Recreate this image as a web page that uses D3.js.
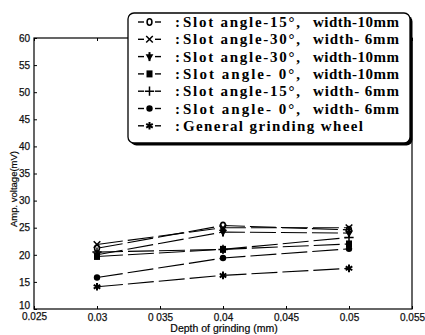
<!DOCTYPE html>
<html>
<head>
<meta charset="utf-8">
<script src="https://cdn.jsdelivr.net/npm/d3@7"></script>
<style>
  body { margin: 0; background: #fff; }
  svg { display: block; }
</style>
</head>
<body>
<svg id="chart"></svg>
<script>
// data
var depths = [0.03, 0.04, 0.05];
var s15w10 = [21.2, 25.4, 24.6];
var s30w6 = [21.9, 25.0, 25.0];
var s30w10 = [20.0, 24.2, 24.0];
var s0w10 = [19.7, 21.0, 22.0];
var s15w6 = [20.5, 21.0, 23.2];
var s0w6 = [15.8, 19.4, 21.1];
var general = [14.1, 16.2, 17.5];

var xTicks = [0.025, 0.03, 0.035, 0.04, 0.045, 0.05, 0.055];
var xTickLabels = ["0.025", "0.03", "0 035", "0.04", "0.045", "0.05", "0.055"];
var yTicks = [10, 15, 20, 25, 30, 35, 40, 45, 50, 55, 60];

var legendSym = ["0", "x", "down", "sq", "+", "dot", "ast"];
var legendA = ["Slot angle-15°,", "Slot angle-30°,", "Slot angle-30°,", "Slot angle- 0°,", "Slot angle-15°,", "Slot angle- 0°,", "General grinding wheel"];
var legendB = ["width-10mm", "width- 6mm", "width-10mm", "width-10mm", "width- 6mm", "width- 6mm", ""];

var series = [s15w10, s30w6, s30w10, s0w10, s15w6, s0w6, general];

var width = 425, height = 335;
var margin = {top: 38, right: 13, bottom: 26, left: 34};

var svg = d3.select("#chart").attr("width", width).attr("height", height);

var x = d3.scaleLinear().domain([0.025, 0.055]).range([margin.left, width - margin.right]);
var y = d3.scaleLinear().domain([10, 60]).range([height - margin.bottom, margin.top]);

// frame
svg.append("rect")
  .attr("x", x(0.025)).attr("y", y(60))
  .attr("width", x(0.055) - x(0.025)).attr("height", y(10) - y(60))
  .attr("fill", "none").attr("stroke", "#000").attr("stroke-width", 1.2);

// axes
var xAxis = svg.append("g")
  .attr("transform", "translate(0," + y(10) + ")")
  .call(d3.axisBottom(x).tickValues(xTicks).tickSize(-3).tickPadding(5)
    .tickFormat(function(d, i) { return xTickLabels[i]; }));
var yAxis = svg.append("g")
  .attr("transform", "translate(" + x(0.025) + ",0)")
  .call(d3.axisLeft(y).tickValues(yTicks).tickSize(-3).tickPadding(4));
// top axis ticks
svg.append("g")
  .attr("transform", "translate(0," + y(60) + ")")
  .call(d3.axisTop(x).tickValues(xTicks).tickSize(-3).tickFormat(""))
  .select(".domain").remove();

[xAxis, yAxis].forEach(function(g) {
  g.select(".domain").remove();
  g.selectAll("text").attr("font-family", "Liberation Sans, Arial, sans-serif")
    .attr("font-size", 10).attr("fill", "#111")
    .attr("stroke", "#111").attr("stroke-width", 0.25);
});
// first x tick label sits just below the "10"
xAxis.selectAll(".tick text").filter(function(d) { return d === 0.025; }).attr("dy", "0.6em");
yAxis.selectAll(".tick text").filter(function(d) { return d === 10; }).attr("dy", "-0.05em");

svg.append("text")
  .attr("x", 224).attr("y", 332)
  .attr("text-anchor", "middle")
  .attr("font-family", "Liberation Sans, Arial, sans-serif").attr("font-size", 10.5)
  .attr("stroke", "#111").attr("stroke-width", 0.2)
  .text("Depth of grinding (mm)");

svg.append("text")
  .attr("transform", "translate(17,189) rotate(-90)")
  .attr("text-anchor", "middle")
  .attr("font-family", "Liberation Sans, Arial, sans-serif").attr("font-size", 9.5)
  .attr("stroke", "#111").attr("stroke-width", 0.2)
  .text("Amp. voltage(mV)");

// markers
function drawMarker(g, kind, cx, cy) {
  if (kind === "0") {
    g.append("ellipse").attr("cx", cx).attr("cy", cy).attr("rx", 2.4).attr("ry", 3.2)
      .attr("fill", "#fff").attr("stroke", "#000").attr("stroke-width", 1.6);
  } else if (kind === "dot") {
    g.append("circle").attr("cx", cx).attr("cy", cy).attr("r", 3.2).attr("fill", "#000");
  } else if (kind === "sq") {
    g.append("rect").attr("x", cx - 3).attr("y", cy - 3.5).attr("width", 6).attr("height", 7).attr("fill", "#000");
  } else if (kind === "down") {
    g.append("path").attr("transform", "translate(" + cx + "," + cy + ") rotate(180)")
      .attr("d", d3.symbol().type(d3.symbolTriangle).size(26)()).attr("fill", "#000");
    g.append("line").attr("x1", cx).attr("x2", cx).attr("y1", cy - 4.5).attr("y2", cy + 4.5)
      .attr("stroke", "#000").attr("stroke-width", 2);
  } else {
    var t = kind === "x" ? (d3.symbolTimes || d3.symbolCross)
          : kind === "+" ? (d3.symbolPlus || d3.symbolCross)
          : (d3.symbolAsterisk || d3.symbolStar);
    g.append("path").attr("transform", "translate(" + cx + "," + cy + ")")
      .attr("d", d3.symbol().type(t).size(kind === "ast" ? 40 : 30)())
      .attr("fill", "none").attr("stroke", "#000").attr("stroke-width", kind === "ast" ? 2 : 1.5);
  }
}

var line = d3.line()
  .x(function(d, i) { return x(depths[i]); })
  .y(function(d) { return y(d); });

var plot = svg.append("g");
series.forEach(function(s, k) {
  plot.append("path").datum(s).attr("d", line)
    .attr("fill", "none").attr("stroke", "#000").attr("stroke-width", 1.1)
    .attr("stroke-dasharray", "26,5");
});
series.forEach(function(s, k) {
  s.forEach(function(v, i) { drawMarker(plot, legendSym[k], x(depths[i]), y(v)); });
});

// legend box with shadow
var lg = svg.append("g");
lg.append("rect").attr("x", 130.5).attr("y", 15.5).attr("width", 282).attr("height", 130)
  .attr("rx", 6).attr("fill", "#000");
lg.append("rect").attr("x", 128).attr("y", 13).attr("width", 282).attr("height", 130)
  .attr("rx", 6).attr("fill", "#fff").attr("stroke", "#000").attr("stroke-width", 1.3);

var font = "'Liberation Serif', 'DejaVu Serif', serif";
legendA.forEach(function(a, i) {
  var yy = 27 + i * 17.3;
  var cy = yy - 5;
  lg.append("line").attr("x1", 138).attr("x2", 144).attr("y1", cy).attr("y2", cy)
    .attr("stroke", "#000").attr("stroke-width", 1.4);
  lg.append("line").attr("x1", 155).attr("x2", 161).attr("y1", cy).attr("y2", cy)
    .attr("stroke", "#000").attr("stroke-width", 1.4);
  drawMarker(lg, legendSym[i], 149.5, cy);
  lg.append("text").attr("x", 175).attr("y", yy)
    .attr("font-family", font).attr("font-size", 15).attr("font-weight", "bold").text(":");
  lg.append("text").attr("x", 183).attr("y", yy)
    .attr("font-family", font).attr("font-size", 15).attr("font-weight", "bold")
    .attr("textLength", legendB[i] ? 117 : 180).attr("lengthAdjust", "spacing")
    .text(a);
  if (legendB[i]) {
    lg.append("text").attr("x", 313).attr("y", yy)
      .attr("font-family", font).attr("font-size", 15).attr("font-weight", "bold")
      .attr("textLength", 86).attr("lengthAdjust", "spacing")
      .text(legendB[i]);
  }
});
</script>
</body>
</html>
